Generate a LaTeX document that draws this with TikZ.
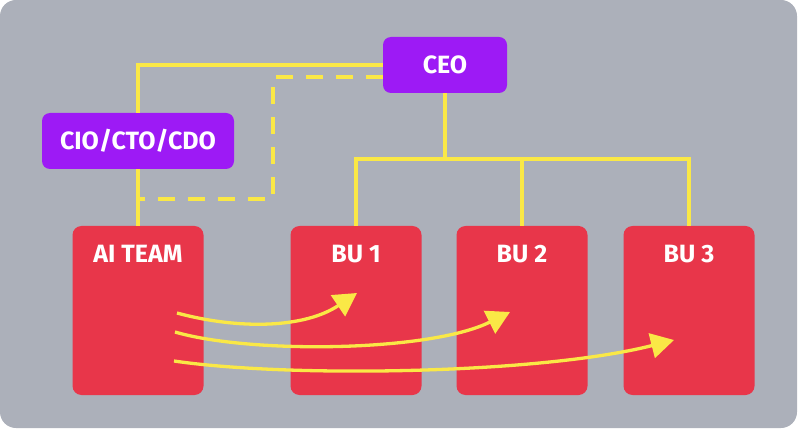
\documentclass[tikz,border=0pt]{standalone}
\usepackage{fontspec}
\setmainfont{Fira Sans}
\usetikzlibrary{arrows.meta}
\definecolor{bggray}{RGB}{172,176,186}
\definecolor{boxpurple}{RGB}{157,26,245}
\definecolor{boxred}{RGB}{232,54,74}
\definecolor{lineyellow}{RGB}{250,232,70}
\begin{document}
\begin{tikzpicture}[x=1pt,y=-1pt,
  purplebox/.style={fill=boxpurple, rounded corners=8pt, text=white, inner sep=0pt,
    font=\fontsize{25}{29}\selectfont\bfseries},
  redbox/.style={fill=boxred, rounded corners=9pt, inner sep=0pt, minimum width=131pt, minimum height=169pt},
  lbl/.style={text=white, inner sep=0pt, font=\fontsize{25}{29}\selectfont\bfseries},
  conn/.style={draw=lineyellow, line width=3.3pt},
  dashconn/.style={conn, dash pattern=on 17pt off 13pt},
  flow/.style={draw=lineyellow, line width=3.3pt, -{Triangle[length=23pt,width=25pt]}}
]
\useasboundingbox (0,0) rectangle (800,430);
\fill[bggray, rounded corners=16pt] (0,0) rectangle (797,428);

% boxes
\node[purplebox, minimum width=124pt, minimum height=56pt] (ceo) at (445,65) {CEO};
\node[purplebox, minimum width=192pt, minimum height=56pt] (cio) at (138,141) {CIO/CTO/CDO};
\node[redbox] (ai) at (138,310.5) {};
\node[redbox] (bu1) at (356,310.5) {};
\node[redbox] (bu2) at (522,310.5) {};
\node[redbox] (bu3) at (689,310.5) {};

\node[lbl] (ailbl) at (138,254) {AI TEAM};
\node[lbl] (bu1lbl) at (356,254) {BU 1};
\node[lbl] (bu2lbl) at (522,254) {BU 2};
\node[lbl] (bu3lbl) at (689,254) {BU 3};

% solid reporting lines
\draw[conn] (ceo.west) -| (cio.north);
\draw[conn] (cio.south) -- (ai.north);
\coordinate (hub) at (445,159);
\draw[conn] (ceo.south) -- (hub);
\draw[conn] (bu1.north) |- (hub) -| (bu3.north);
\draw[conn] (bu2.north) -- (bu2.north |- hub);

% dashed line
\coordinate (dstart) at (383,77);
\coordinate (dcorner) at (273,77);
\coordinate (dend) at (138,199);
\draw[dashconn] (dstart) -- (dcorner) |- (dend);

% flows
\coordinate (f1s) at (177,313);
\coordinate (f1e) at (357,293);
\coordinate (f2s) at (175,332);
\coordinate (f2e) at (510,312);
\coordinate (f3s) at (174,361);
\coordinate (f3e) at (674,340);
\draw[flow] (f1s) .. controls (240,330) and (305,328) .. (f1e);
\draw[flow] (f2s) .. controls (250,354) and (430,352) .. (f2e);
\draw[flow] (f3s) .. controls (290,378) and (540,374) .. (f3e);
\end{tikzpicture}
\end{document}
